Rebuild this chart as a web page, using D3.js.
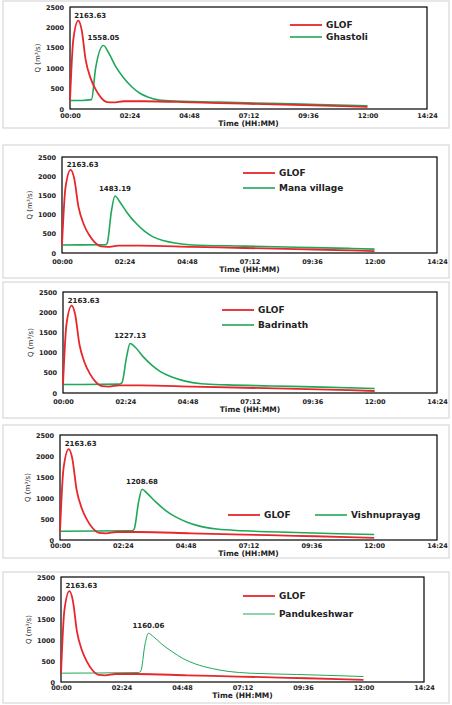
<!DOCTYPE html>
<html><head><meta charset="utf-8">
<script src="https://cdn.jsdelivr.net/npm/d3@7"></script>
<style>body{margin:0;background:#fff}svg{display:block}text{font-family:"DejaVu Sans",sans-serif;font-weight:bold;fill:#222}</style>
</head><body><svg id="c" width="452" height="705"></svg>
<script>
const xTicks = [0,144,288,432,576,720,864];
const xTickLabels = ["00:00","02:24","04:48","07:12","09:36","12:00","14:24"];
const yTicks = [0,500,1000,1500,2000,2500];
const glofPeak = 2163.63;
const glof = [[0,200],[8,1700],[20,2164],[28,1950],[38,1200],[50,750],[62,480],[75,280],[90,170],[105,160],[130,190],[180,190],[300,160],[420,130],[540,100],[660,70],[720,50]];
const siteNames = ["Ghastoli","Mana village","Badrinath","Vishnuprayag","Pandukeshwar"];
const sitePeaks = [1558.05,1483.19,1227.13,1208.68,1160.06];
const ghastoli = [[0,210],[30,210],[52,230],[62,1000],[81,1558],[95,1350],[110,1050],[130,760],[150,540],[170,380],[190,290],[210,230],[240,200],[360,170],[480,140],[600,110],[720,80]];
const mana = [[0,210],[100,215],[104,250],[114,1100],[122,1483],[135,1300],[150,1050],[170,780],[190,570],[210,420],[235,320],[260,260],[300,210],[420,180],[540,150],[660,120],[720,100]];
const badrinath = [[0,210],[130,220],[136,250],[147,900],[155,1227],[168,1120],[185,900],[205,690],[225,530],[250,400],[280,300],[320,230],[380,200],[480,175],[600,145],[720,110]];
const vishnuprayag = [[0,210],[165,220],[170,260],[180,900],[188,1209],[200,1110],[220,900],[240,720],[265,550],[290,430],[320,330],[360,260],[420,220],[540,180],[640,150],[720,130]];
const pandukeshwar = [[0,210],[185,225],[190,260],[200,900],[208,1160],[220,1080],[240,900],[265,720],[290,560],[320,430],[360,320],[400,250],[450,210],[560,180],[660,150],[720,130]];
const siteSeries = [ghastoli,mana,badrinath,vishnuprayag,pandukeshwar];

const layout = [
 {box:[3,1,446,127], l:70,r:427,t:7,b:109, lab:116, leg:{row:false,x:290,y:25,dy:12}, gW:1.6},
 {box:[3,145,446,133], l:62,r:437,t:157,b:253, lab:262, leg:{row:false,x:243,y:173,dy:15}, gW:1.6},
 {box:[3,282,446,136], l:63,r:437,t:292,b:393, lab:402, leg:{row:false,x:222,y:310,dy:15}, gW:1.6},
 {box:[3,425,446,133], l:60,r:437,t:435,b:540, lab:546, leg:{row:true,x:228,y:515}, gW:1.6},
 {box:[3,572,446,131], l:61,r:424,t:577,b:682, lab:688, leg:{row:false,x:243,y:596,dy:18}, gW:1}
];
const red="#e8262b", green="#1fa85a";
const svg=d3.select("#c");
layout.forEach((L,i)=>{
  const g=svg.append("g");
  g.append("rect").attr("x",L.box[0]).attr("y",L.box[1]).attr("width",L.box[2]).attr("height",L.box[3]).attr("fill","none").attr("stroke","#d0d0d0");
  const x=d3.scaleLinear().domain([0,864]).range([L.l,L.r]);
  const y=d3.scaleLinear().domain([0,2500]).range([L.b,L.t]);
  g.append("rect").attr("x",L.l).attr("y",L.t).attr("width",L.r-L.l).attr("height",L.b-L.t).attr("fill","none").attr("stroke","#000").attr("stroke-width",1.2);
  const xa=g.append("g").attr("transform",`translate(0,${L.b})`).call(d3.axisBottom(x).tickValues(xTicks).tickFormat((d,j)=>xTickLabels[j]).tickSize(0).tickPadding(0));
  xa.select(".domain").remove();
  xa.selectAll("text").attr("y",L.lab-L.b).attr("dy","0.35em").style("font-size","6.5px").style("font-family","DejaVu Sans").style("font-weight","bold");
  const ya=g.append("g").attr("transform",`translate(${L.l},0)`).call(d3.axisLeft(y).tickValues(yTicks).tickSize(0).tickPadding(6).tickFormat(d3.format("d")));
  ya.select(".domain").remove();
  ya.selectAll("text").style("font-size","6.5px").style("font-family","DejaVu Sans").style("font-weight","bold");
  g.append("text").attr("x",(L.l+L.r)/2).attr("y",L.lab+10).attr("text-anchor","middle").style("font-size","7.5px").text("Time (HH:MM)");
  g.append("text").attr("transform",`translate(${L.l-30},${(L.t+L.b)/2}) rotate(-90)`).attr("text-anchor","middle").style("font-size","7px").style("font-weight","normal").text("Q (m³/s)");
  const line=d3.line().x(d=>x(d[0])).y(d=>y(d[1])).curve(d3.curveMonotoneX);
  g.append("path").datum(siteSeries[i]).attr("d",line).attr("fill","none").attr("stroke",green).attr("stroke-width",L.gW);
  g.append("path").datum(glof).attr("d",line).attr("fill","none").attr("stroke",red).attr("stroke-width",1.8);
  const gp=glof.reduce((a,b)=>b[1]>a[1]?b:a), sp=siteSeries[i].reduce((a,b)=>b[1]>a[1]?b:a);
  g.append("text").attr("x",x(gp[0])-4).attr("y",y(gp[1])-3).style("font-size","7px").text(glofPeak.toFixed(2));
  g.append("text").attr("x",x(sp[0])).attr("y",y(sp[1])-5).attr("text-anchor","middle").style("font-size","7px").text(sitePeaks[i].toFixed(2));
  const lg=L.leg;
  const items=[["GLOF",red],[siteNames[i],green]];
  items.forEach((it,k)=>{
    const lx= lg.row ? lg.x + k*87 : lg.x, ly = lg.row ? lg.y : lg.y + k*lg.dy;
    g.append("line").attr("x1",lx).attr("x2",lx+32).attr("y1",ly).attr("y2",ly).attr("stroke",it[1]).attr("stroke-width",k==0?1.8:L.gW);
    g.append("text").attr("x",lx+36).attr("y",ly).attr("dy","0.35em").style("font-size","9px").text(it[0]);
  });
});
</script></body></html>
